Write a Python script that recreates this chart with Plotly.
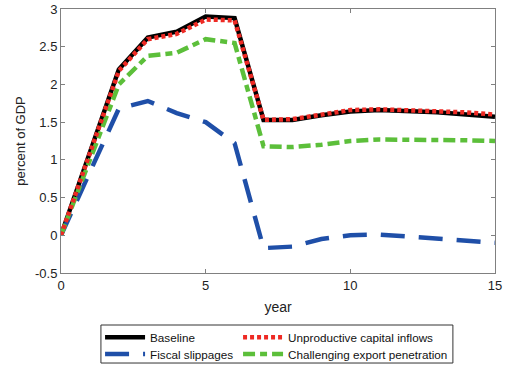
import plotly.graph_objects as go

years = list(range(16))
baseline = [0, 1.1, 2.2, 2.62, 2.7, 2.9, 2.88, 1.53, 1.53, 1.59, 1.64, 1.66, 1.65, 1.63, 1.6, 1.57]
unproductive = [0, 1.1, 2.18, 2.6, 2.67, 2.86, 2.85, 1.53, 1.54, 1.6, 1.66, 1.67, 1.66, 1.65, 1.63, 1.6]
fiscal = [0, 0.85, 1.68, 1.78, 1.62, 1.5, 1.22, -0.17, -0.15, -0.05, 0.0, 0.01, -0.02, -0.05, -0.08, -0.1]
export = [0, 1.0, 2.0, 2.38, 2.42, 2.6, 2.55, 1.18, 1.17, 1.2, 1.25, 1.27, 1.27, 1.26, 1.26, 1.25]

fig = go.Figure()
fig.add_trace(go.Scatter(x=years, y=baseline, mode="lines", name="Baseline", legend="legend",
                         legendrank=1, legendwidth=83, line=dict(color="#000000", width=4.5)))
fig.add_trace(go.Scatter(x=years, y=fiscal, mode="lines", name="Fiscal slippages", legend="legend2",
                         legendrank=1, legendwidth=83,
                         line=dict(color="#1f4fa8", width=4.5, dash="24px,14px")))
fig.add_trace(go.Scatter(x=years, y=export, mode="lines", name="Challenging export penetration",
                         legend="legend2", legendrank=2, legendwidth=175,
                         line=dict(color="#5cbf3a", width=4.5, dash="12px,5px,7px,5px")))
fig.add_trace(go.Scatter(x=years, y=unproductive, mode="lines", name="Unproductive capital inflows",
                         legend="legend", legendrank=2, legendwidth=175,
                         line=dict(color="#ee2a24", width=4.5, dash="4px,3px")))

axis_common = dict(showline=True, linecolor="#808080", linewidth=1, mirror="ticks",
                   ticks="inside", ticklen=4, tickcolor="#808080", showgrid=False,
                   zeroline=False, tickfont=dict(family="Liberation Sans, Arial", size=13, color="#222"))

leg_common = dict(orientation="h", xanchor="left", yanchor="top",
                  borderwidth=0, bgcolor="rgba(0,0,0,0)", font=dict(size=11.7, color="#111"),
                  itemwidth=40, traceorder="normal")

fig.update_layout(
    width=507, height=365,
    margin=dict(l=61, r=12, t=9, b=92, autoexpand=False),
    plot_bgcolor="white", paper_bgcolor="white",
    font=dict(family="Liberation Sans, Arial", size=12, color="#222"),
    xaxis=dict(range=[0, 15], tickvals=[0, 5, 10, 15],
               title=dict(text="year", standoff=10, font=dict(size=14)), **axis_common),
    yaxis=dict(range=[-0.5, 3], tickvals=[-0.5, 0, 0.5, 1, 1.5, 2, 2.5, 3],
               ticktext=["-0.5", "0", "0.5", "1", "1.5", "2", "2.5", "3"],
               title=dict(text="percent of GDP", standoff=6, font=dict(size=13)), **axis_common),
    legend=dict(x=0.09, y=-0.188, **leg_common),
    legend2=dict(x=0.09, y=-0.252, **leg_common),
    shapes=[dict(type="rect", xref="paper", yref="paper", x0=0.092, x1=0.903, y0=-0.341, y1=-0.197,
                 line=dict(color="#333", width=1), fillcolor="rgba(0,0,0,0)", layer="below")],
    showlegend=True,
)

fig.write_html("out.html")
